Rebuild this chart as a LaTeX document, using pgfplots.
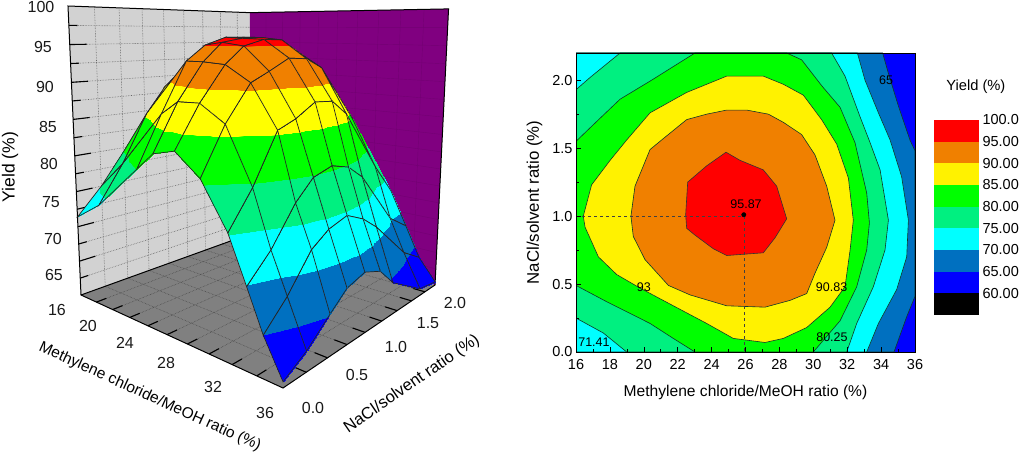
\documentclass[border=0pt]{standalone}
\usepackage{fontspec}
\setmainfont{Liberation Sans}
\usepackage{pgfplots}
\pgfplotsset{compat=1.18}
\definecolor{cOrange}{HTML}{F08000}
\definecolor{cGreen}{HTML}{00FF00}
\definecolor{cSpring}{HTML}{00F080}
\definecolor{cCyan}{HTML}{00FFFF}
\definecolor{cSteel}{HTML}{0070C0}
\definecolor{cBlue}{HTML}{0000FF}
\definecolor{cPurple}{HTML}{800080}
\definecolor{cWall}{HTML}{D2D2D2}
\definecolor{cFloor}{HTML}{808080}
\definecolor{cLine}{HTML}{103828}
\newcommand{\fs}[1]{\fontsize{#1}{#1}\selectfont}
\begin{document}
\begin{tikzpicture}[
  declare function={
    PD(\x,\y,\z)=1-0.2575*(\x-16)/20+0.3035*\y/2.2-0.0714*(\z-60)/40;
    PX(\x,\y,\z)=(129.13*(\x-16)/20+244.88*\y/2.2+81-17.86*(\z-60)/40)/PD(\x,\y,\z);
    PY(\x,\y,\z)=(-6.91*(\x-16)/20+10.02*\y/2.2+295-289.43*(\z-60)/40)/PD(\x,\y,\z);
  }]
\path[use as bounding box] (0,0) rectangle (1024pt,453pt);
% ---------- left: perspective surface ----------
\begin{axis}[at={(0,0)},anchor=south west,x=1pt,y=1pt,xmin=0,xmax=1024,ymin=0,ymax=453,
  y dir=reverse,hide axis,clip=false,
  colormap={yield}{
    color(0)=(cBlue) color(4.98)=(cBlue)
    color(5)=(cSteel) color(9.98)=(cSteel)
    color(10)=(cCyan) color(14.98)=(cCyan)
    color(15)=(cSpring) color(19.98)=(cSpring)
    color(20)=(cGreen) color(24.98)=(cGreen)
    color(25)=(yellow) color(29.98)=(yellow)
    color(30)=(cOrange) color(34.98)=(cOrange)
    color(35)=(red) color(40)=(red)},
  point meta min=60,point meta max=100]
% walls and floor
\addplot[fill=cWall,draw=none,forget plot] table[x expr={PX(\thisrow{x},\thisrow{y},\thisrow{z})},y expr={PY(\thisrow{x},\thisrow{y},\thisrow{z})}] {
x y z
16 0 60
16 2.2 60
16 2.2 100
16 0 100
};
\addplot[fill=cPurple,draw=none,forget plot] table[x expr={PX(\thisrow{x},\thisrow{y},\thisrow{z})},y expr={PY(\thisrow{x},\thisrow{y},\thisrow{z})}] {
x y z
16 2.2 60
36 2.2 60
36 2.2 100
16 2.2 100
};
\addplot[fill=cFloor,draw=none,forget plot] table[x expr={PX(\thisrow{x},\thisrow{y},\thisrow{z})},y expr={PY(\thisrow{x},\thisrow{y},\thisrow{z})}] {
x y z
16 0 60
36 0 60
36 2.2 60
16 2.2 60
};
% wall and floor grids
\pgfplotsinvokeforeach{0.25,0.5,0.75,1,1.25,1.5,1.75,2}{
  \draw[black!60,densely dotted,line width=.6pt] (axis cs:{PX(16,#1,60)},{PY(16,#1,60)}) -- (axis cs:{PX(16,#1,100)},{PY(16,#1,100)});
  \draw[black!75,densely dotted,line width=.5pt] (axis cs:{PX(16,#1,60)},{PY(16,#1,60)}) -- (axis cs:{PX(36,#1,60)},{PY(36,#1,60)});
}
\pgfplotsinvokeforeach{62.5,65,67.5,70,72.5,75,77.5,80,82.5,85,87.5,90,92.5,95,97.5}{
  \draw[black!60,densely dotted,line width=.6pt] (axis cs:{PX(16,0,#1)},{PY(16,0,#1)}) -- (axis cs:{PX(16,2.2,#1)},{PY(16,2.2,#1)});
  \draw[black!10!cPurple,line width=.4pt] (axis cs:{PX(16,2.2,#1)},{PY(16,2.2,#1)}) -- (axis cs:{PX(36,2.2,#1)},{PY(36,2.2,#1)});
}
\pgfplotsinvokeforeach{18,20,22,24,26,28,30,32,34}{
  \draw[black!75,densely dotted,line width=.5pt] (axis cs:{PX(#1,0,60)},{PY(#1,0,60)}) -- (axis cs:{PX(#1,2.2,60)},{PY(#1,2.2,60)});
  \draw[black!10!cPurple,line width=.4pt] (axis cs:{PX(#1,2.2,60)},{PY(#1,2.2,60)}) -- (axis cs:{PX(#1,2.2,100)},{PY(#1,2.2,100)});
}
% box edges
\addplot[black,line width=1pt,forget plot] table[x expr={PX(\thisrow{x},\thisrow{y},\thisrow{z})},y expr={PY(\thisrow{x},\thisrow{y},\thisrow{z})}] {
x y z
16 2.2 60
16 0 60
16 0 100
16 2.2 100
36 2.2 100
36 2.2 60
36 0 60
16 0 60
};
% ticks
\pgfplotsinvokeforeach{65,70,75,80,85,90,95}{
  \draw[black,line width=1.1pt] (axis cs:{PX(16,0,#1)},{PY(16,0,#1)}) -- (axis cs:{PX(16,.16,#1)},{PY(16,.16,#1)});
}
\pgfplotsinvokeforeach{62.5,67.5,72.5,77.5,82.5,87.5,92.5,97.5}{
  \draw[black,line width=1.1pt] (axis cs:{PX(16,0,#1)},{PY(16,0,#1)}) -- (axis cs:{PX(16,.08,#1)},{PY(16,.08,#1)});
}
\pgfplotsinvokeforeach{18,20,22,24,26,28,30,32,34}{
  \draw[black,line width=1.1pt] (axis cs:{PX(#1,0,60)},{PY(#1,0,60)}) -- (axis cs:{PX(#1,.1,60)},{PY(#1,.1,60)});
}
\pgfplotsinvokeforeach{0.25,0.5,0.75,1,1.25,1.5,1.75,2}{
  \draw[black,line width=1.1pt] (axis cs:{PX(36,#1,60)},{PY(36,#1,60)}) -- (axis cs:{PX(35,#1,60)},{PY(35,#1,60)});
}
% the surface
\addplot[surf,shader=faceted interp,faceted color=black!85,line width=.7pt,mesh/cols=9,
  point meta={\thisrow{z}}] table[x expr={PX(\thisrow{x},\thisrow{y},\thisrow{z})},y expr={PY(\thisrow{x},\thisrow{y},\thisrow{z})}] {
x y z
16 2.2 72
16 1.9 75.5
16 1.41 82.2
16 1.2 83
16 0.97 84.2
16 0.73 82
16 0.52 79.8
16 0.25 75
16 0 71.4
18.8 2.2 75.5
18.8 1.9 79
18.8 1.41 87.5
18.8 1.2 89.5
18.8 0.97 90.5
18.8 0.73 89
18.8 0.52 85.5
18.8 0.25 79
18.8 0 74
23.3 2.2 80.2
23.3 1.9 85.7
23.3 1.41 95
23.3 1.2 96
23.3 0.97 96
23.3 0.73 95
23.3 0.52 93
23.3 0.25 86.5
23.3 0 80.1
25 2.2 81.5
25 1.9 87.5
25 1.41 95.6
25 1.2 96
25 0.97 95.9
25 0.73 95.4
25 0.52 93
25 0.25 88.3
25 0 82.4
27.1 2.2 82.5
27.1 1.9 87.3
27.1 1.41 94.1
27.1 1.2 95.7
27.1 0.97 95.8
27.1 0.73 95
27.1 0.52 92.8
27.1 0.25 88.4
27.1 0 83.2
29.4 2.2 77.5
29.4 1.9 84.3
29.4 1.41 92
29.4 1.2 93.3
29.4 0.97 93.5
29.4 0.73 92
29.4 0.52 90.8
29.4 0.25 86.3
29.4 0 80.6
31.7 2.2 73
31.7 1.9 77.5
31.7 1.41 86
31.7 1.2 88
31.7 0.97 88.2
31.7 0.73 86.5
31.7 0.52 85.5
31.7 0.25 79.5
31.7 0 75.2
33.2 2.2 68
33.2 1.9 70.3
33.2 1.41 77.8
33.2 1.2 79.7
33.2 0.97 80.5
33.2 0.73 79.7
33.2 0.52 77.3
33.2 0.25 72.8
33.2 0 69.8
34.5 2.2 63.6
34.5 1.9 65.7
34.5 1.41 71.4
34.5 1.2 73.3
34.5 0.97 74.6
34.5 0.73 73.8
34.5 0.52 72.2
34.5 0.25 68
34.5 0 65
36 2.2 60.5
36 1.9 61
36 1.41 64.4
36 1.2 67
36 0.97 68
36 0.73 67.2
36 0.52 65.2
36 0.25 62.5
36 0 60.7
};
% left labels
\foreach \t/\px/\py in {100/41/7,95/43/47,90/45/87,85/48/127,80/49/164,75/51/202,70/53/239,65/54/275,16/57/310,20/88/326,24/125/343,28/166/363,32/213/387,36/265/413,0.0/313/408,0.5/357/375,1.0/396/347,1.5/428/323,2.0/455/303}{
  \edef\tmp{\noexpand\node[font=\noexpand\fs{16},text=black!90,inner sep=0pt] at (axis cs:\px,\py) {\t};}\tmp
}
\node[font=\fs{17.5},rotate=90,inner sep=0pt] at (axis cs:10,167) {Yield (\%)};
\node[font=\fs{15.5},rotate=-24.5,inner sep=0pt] at (axis cs:150,397) {Methylene chloride/MeOH ratio (\%)};
\node[font=\fs{16.5},rotate=34.6,inner sep=0pt] at (axis cs:412,384) {NaCl/solvent ratio (\%)};
\end{axis}
% ---------- right: contour map ----------
\begin{axis}[at={(576pt,101pt)},anchor=south west,scale only axis,width=339pt,height=299pt,
  xmin=16,xmax=36,ymin=0,ymax=2.2,axis on top,
  xtick={16,18,...,36},ytick={0,0.5,1,1.5,2},minor x tick num=1,minor y tick num=1,
  xtick pos=bottom,ytick pos=left,tick align=inside,
  major tick length=5pt,minor tick length=3pt,
  tick style={black,line width=.6pt},axis line style={black,line width=.7pt},
  /pgf/number format/assume math mode=true,
  yticklabel style={font=\fs{14.5},/pgf/number format/.cd,fixed,fixed zerofill,precision=1},
  xticklabel style={font=\fs{14.5},yshift=-4pt},
  xlabel={Methylene chloride/MeOH ratio (\%)},ylabel={NaCl/solvent ratio (\%)},
  xlabel style={font=\fs{15.6},yshift=-9pt},ylabel style={font=\fs{16.8},yshift=3pt},
  every axis plot/.append style={no marks}]
\addplot[fill=cBlue,draw=none] coordinates {(16,0)(36,0)(36,2.2)(16,2.2)};
\addplot[fill=cSteel,draw=cLine,line width=.6pt] coordinates {(16,2.2)(34.09,2.2)(34.43,2.05)(35.02,1.81)(35.70,1.56)(36,1.48)(36,0.41)(35.51,0.26)(34.76,0)(16,0)(16,2.2)};
\addplot[fill=cCyan,draw=cLine,line width=.6pt] coordinates {(16,2.2)(32.60,2.2)(33.05,2.00)(33.84,1.76)(34.53,1.56)(35.21,1.29)(35.61,0.97)(35.51,0.70)(34.92,0.46)(33.84,0.21)(33.15,0)(16,0)(16,2.2)};
\addplot[fill=cSpring,draw=cLine,line width=.6pt] coordinates {(18.60,2.2)(31.08,2.2)(31.87,2.03)(32.76,1.73)(33.35,1.54)(33.94,1.34)(34.43,0.97)(34.23,0.75)(33.54,0.48)(32.56,0.21)(31.97,0)(18.99,0)(17.61,0.14)(16,0.25)(16,1.93)(16.83,2.02)(18.60,2.2)};
\addplot[fill=cGreen,draw=cLine,line width=.6pt] coordinates {(23.02,2.2)(28.43,2.2)(29.31,2.15)(30.49,1.96)(31.58,1.80)(32.46,1.54)(33.15,1.17)(33.31,0.95)(33.15,0.75)(32.56,0.48)(31.58,0.23)(30.00,0)(23.02,0)(21.74,0.10)(20.37,0.21)(17.81,0.37)(16,0.49)(16,1.55)(17.42,1.72)(18.60,1.86)(20.46,2.00)(23.02,2.2)};
\addplot[fill=yellow,draw=cLine,line width=.6pt] coordinates {(24.89,2.03)(27.05,2.03)(28.23,1.97)(29.41,1.89)(30.49,1.71)(31.38,1.53)(32.07,1.28)(32.36,0.97)(32.17,0.75)(31.87,0.48)(30.99,0.33)(29.61,0.18)(28.23,0.10)(27.15,0.07)(25.28,0.10)(23.71,0.21)(21.74,0.34)(19.78,0.47)(18.40,0.57)(17.32,0.70)(16.53,0.92)(16.43,1.00)(16.92,1.23)(18.01,1.41)(18.99,1.56)(20.37,1.76)(22.53,1.91)(23.91,1.98)(24.89,2.03)};
\addplot[fill=cOrange,draw=cLine,line width=.6pt] coordinates {(24.89,1.78)(26.07,1.78)(27.35,1.75)(28.23,1.69)(29.31,1.60)(30.10,1.45)(30.79,1.22)(31.28,0.97)(30.79,0.77)(30.10,0.58)(29.61,0.43)(28.63,0.38)(27.15,0.33)(24.89,0.34)(22.73,0.42)(21.45,0.49)(20.07,0.68)(19.38,0.85)(19.24,1.00)(19.48,1.22)(20.37,1.49)(21.15,1.57)(22.53,1.71)(23.71,1.75)(24.89,1.78)};
\addplot[fill=red,draw=black!80,line width=.6pt] coordinates {(24.85,1.47)(25.68,1.41)(27.05,1.34)(27.84,1.22)(28.43,0.98)(27.74,0.84)(27.05,0.73)(24.89,0.71)(24.10,0.76)(23.02,0.86)(22.53,0.91)(22.47,1.01)(22.59,1.25)(23.71,1.37)(24.85,1.47)};
\addplot[black!75,dashed,line width=.5pt] coordinates {(16,1)(25.9,1)(25.9,0)};
\addplot[only marks,mark=*,mark options={black},mark size=2.2pt] coordinates {(25.9,1.01)};
\node[font=\fs{12.5},inner sep=0pt] at (axis cs:26.03,1.09) {95.87};
\node[font=\fs{12.5},inner sep=0pt] at (axis cs:20.0,0.475) {93};
\node[font=\fs{12.5},inner sep=0pt] at (axis cs:31.08,0.48) {90.83};
\node[font=\fs{12.5},inner sep=0pt] at (axis cs:31.1,0.106) {80.25};
\node[font=\fs{12.5},inner sep=0pt] at (axis cs:17.06,0.074) {71.41};
\node[font=\fs{12.5},inner sep=0pt] at (axis cs:34.3,2.0) {65};
\end{axis}
% ---------- colour key ----------
\begin{axis}[at={(934pt,138pt)},anchor=south west,scale only axis,width=45pt,height=195pt,
  xmin=0,xmax=1,ymin=55,ymax=100,hide x axis,axis y line*=right,
  ytick={60,65,70,75,80,85,90,95,100},
  yticklabels={60.00,65.00,70.00,75.00,80.00,85.00,90.00,95.00,100.0},
  yticklabel style={font=\fs{14.5},xshift=0pt},
  axis line style={draw=none},major tick length=0pt,
  every axis plot/.append style={no marks,draw=none},clip=false,
  /pgf/number format/assume math mode=true]
\addplot[fill=black] coordinates {(0,55)(1,55)(1,60)(0,60)};
\addplot[fill=cBlue] coordinates {(0,60)(1,60)(1,65)(0,65)};
\addplot[fill=cSteel] coordinates {(0,65)(1,65)(1,70)(0,70)};
\addplot[fill=cCyan] coordinates {(0,70)(1,70)(1,75)(0,75)};
\addplot[fill=cSpring] coordinates {(0,75)(1,75)(1,80)(0,80)};
\addplot[fill=cGreen] coordinates {(0,80)(1,80)(1,85)(0,85)};
\addplot[fill=yellow] coordinates {(0,85)(1,85)(1,90)(0,90)};
\addplot[fill=cOrange] coordinates {(0,90)(1,90)(1,95)(0,95)};
\addplot[fill=red] coordinates {(0,95)(1,95)(1,100)(0,100)};
\node[font=\fs{14.7},inner sep=0pt] at (rel axis cs:0.93,1.17) {Yield (\%)};
\end{axis}
\end{tikzpicture}
\end{document}
